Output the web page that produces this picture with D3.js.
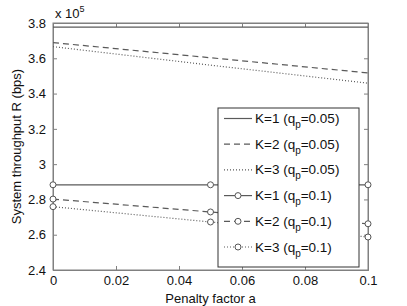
<!DOCTYPE html>
<html>
<head>
<meta charset="utf-8">
<script src="https://cdn.jsdelivr.net/npm/d3@7"></script>
<style>
  body { margin: 0; background: #fff; }
  svg { display: block; font-family: "Liberation Sans", Arial, sans-serif; }
  text { fill: #111; }
</style>
</head>
<body>
<svg id="chart" width="407" height="306"></svg>
<script>
// Data (throughput in units of 1e5 bps)
const penalty = [0, 0.05, 0.1];
const k1q05 = [3.777, 3.777, 3.777];
const k2q05 = [3.689, 3.603, 3.517];
const k3q05 = [3.666, 3.561, 3.459];
const k1q1 = [2.883, 2.883, 2.883];
const k2q1 = [2.802, 2.729, 2.662];
const k3q1 = [2.759, 2.672, 2.587];

const xTicks = [0, 0.02, 0.04, 0.06, 0.08, 0.1];
const yTicks = [2.4, 2.6, 2.8, 3, 3.2, 3.4, 3.6, 3.8];

const seriesNames = ["K=1", "K=2", "K=3", "K=1", "K=2", "K=3"];
const seriesQ = ["0.05", "0.05", "0.05", "0.1", "0.1", "0.1"];

const margin = { top: 23, right: 39, bottom: 36, left: 53 };
const width = 407 - margin.left - margin.right;
const height = 306 - margin.top - margin.bottom;

const axisColor = "#808080";
const lineColor = "#5a5a5a";

const styles = [
  { dash: null, marker: false },
  { dash: "6,4", marker: false },
  { dash: "1,2", marker: false },
  { dash: null, marker: true },
  { dash: "6,4", marker: true },
  { dash: "1,2", marker: true },
];

const allSeries = [k1q05, k2q05, k3q05, k1q1, k2q1, k3q1];

const svg = d3.select("#chart");
const g = svg.append("g").attr("transform", `translate(${margin.left},${margin.top})`);

const x = d3.scaleLinear().domain([0, 0.1]).range([0, width]);
const y = d3.scaleLinear().domain([2.4, 3.8]).range([height, 0]);

// box
g.append("rect")
  .attr("width", width).attr("height", height)
  .attr("fill", "none").attr("stroke", axisColor).attr("stroke-width", 1);

// axes with inward ticks (MATLAB style)
const fmt = d => String(+d.toFixed(2));
const xAx = g.append("g").attr("transform", `translate(0,${height})`)
  .call(d3.axisBottom(x).tickValues(xTicks).tickSize(-4).tickPadding(6).tickFormat(fmt));
const xTop = g.append("g")
  .call(d3.axisTop(x).tickValues(xTicks).tickSize(-4).tickFormat(""));
const yAx = g.append("g")
  .call(d3.axisLeft(y).tickValues(yTicks).tickSize(-4).tickPadding(7).tickFormat(fmt));
const yRight = g.append("g").attr("transform", `translate(${width},0)`)
  .call(d3.axisRight(y).tickValues(yTicks).tickSize(-4).tickFormat(""));

[xAx, xTop, yAx, yRight].forEach(a => {
  a.select(".domain").attr("stroke", axisColor);
  a.selectAll(".tick line").attr("stroke", axisColor);
  a.selectAll("text").attr("font-size", 13).attr("fill", "#111")
    .attr("font-family", "Liberation Sans, Arial, sans-serif");
});

// exponent label
const expo = g.append("text").attr("x", 2).attr("y", -5).attr("font-size", 13);
expo.append("tspan").text("x 10");
expo.append("tspan").attr("dy", -6).attr("font-size", 9).text("5");

// axis titles
g.append("text")
  .attr("x", width / 2).attr("y", height + 33)
  .attr("text-anchor", "middle").attr("font-size", 13)
  .text("Penalty factor a");
g.append("text")
  .attr("transform", "rotate(-90)")
  .attr("x", -height / 2).attr("y", -32)
  .attr("text-anchor", "middle").attr("font-size", 13)
  .text("System throughput R (bps)");

// lines
const line = d3.line().x((d, i) => x(penalty[i])).y(d => y(d));
allSeries.forEach((vals, s) => {
  g.append("path")
    .datum(vals)
    .attr("d", line)
    .attr("fill", "none")
    .attr("stroke", lineColor)
    .attr("stroke-width", 1.2)
    .attr("stroke-dasharray", styles[s].dash);
  if (styles[s].marker) {
    g.selectAll(null).data(vals).enter().append("circle")
      .attr("cx", (d, i) => x(penalty[i]))
      .attr("cy", d => y(d))
      .attr("r", 3)
      .attr("fill", "#fff")
      .attr("stroke", "#555")
      .attr("stroke-width", 1);
  }
});

// legend
const legX = 218 - margin.left, legY = 108 - margin.top;
const legW = 141, legH = 159, rowH = 25.7;
const leg = g.append("g").attr("transform", `translate(${legX},${legY})`);
leg.append("rect")
  .attr("width", legW).attr("height", legH)
  .attr("fill", "#fff").attr("stroke", "#333").attr("stroke-width", 1);

seriesNames.forEach((name, s) => {
  const cy = 10.5 + s * rowH;
  const row = leg.append("g").attr("transform", `translate(0,${cy})`);
  row.append("line")
    .attr("x1", 6).attr("x2", 34).attr("y1", 0).attr("y2", 0)
    .attr("stroke", lineColor).attr("stroke-width", 1.2)
    .attr("stroke-dasharray", styles[s].dash);
  if (styles[s].marker) {
    row.append("circle").attr("cx", 20).attr("cy", 0).attr("r", 3)
      .attr("fill", "#fff").attr("stroke", "#555");
  }
  const t = row.append("text").attr("x", 37).attr("y", 4.5).attr("font-size", 13.5);
  t.append("tspan").text(`${name} (q`);
  t.append("tspan").attr("dy", 5).attr("font-size", 10).text("p");
  t.append("tspan").attr("dy", -5).text(`=${seriesQ[s]})`);
});
</script>
</body>
</html>
